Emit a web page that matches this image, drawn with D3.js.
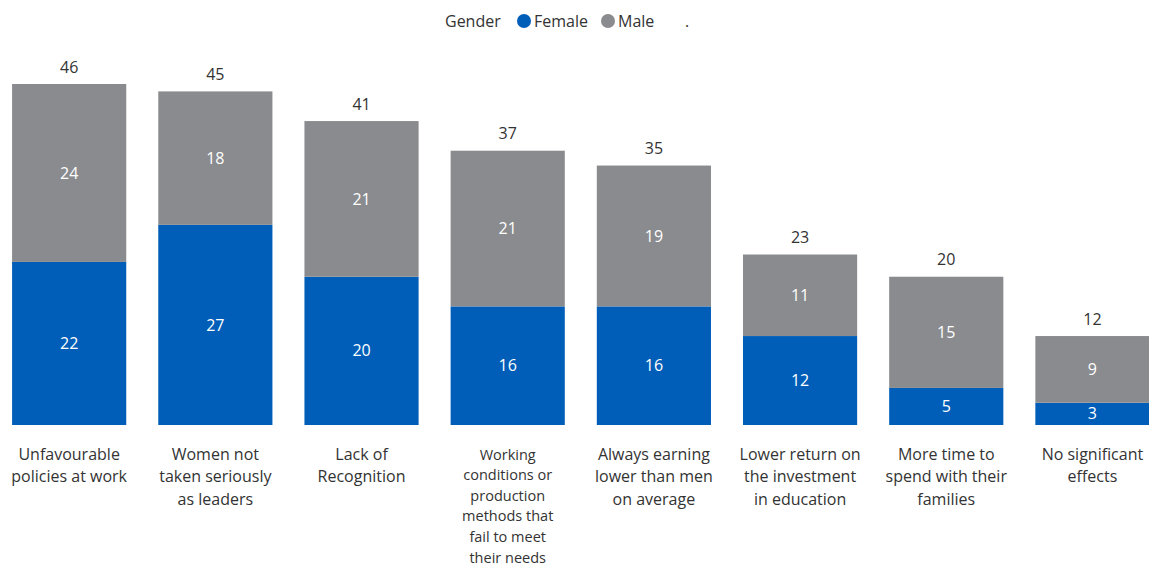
<!DOCTYPE html>
<html>
<head>
<meta charset="utf-8">
<script src="https://cdn.jsdelivr.net/npm/d3@7"></script>
<style>
  body { margin: 0; background: #fff; }
  svg text { font-family: "Open Sans", "Noto Sans", sans-serif; }
</style>
</head>
<body>
<div id="chart"></div>
<script>
var width = 1149;
var height = 565;

var categories = [
  ["Unfavourable", "policies at work"],
  ["Women not", "taken seriously", "as leaders"],
  ["Lack of", "Recognition"],
  ["Working", "conditions or", "production", "methods that", "fail to meet", "their needs"],
  ["Always earning", "lower than men", "on average"],
  ["Lower return on", "the investment", "in education"],
  ["More time to", "spend with their", "families"],
  ["No significant", "effects"]
];
var female = [22, 27, 20, 16, 16, 12, 5, 3];
var male = [24, 18, 21, 21, 19, 11, 15, 9];
var totals = [46, 45, 41, 37, 35, 23, 20, 12];

var blue = "#005EB8";
var gray = "#8A8B8E";

var svg = d3.select("#chart").append("svg")
  .attr("width", width)
  .attr("height", height);

var x = d3.scaleBand()
  .domain(d3.range(categories.length))
  .range([-4, 1165.6])
  .paddingInner(0.219)
  .paddingOuter(0.11);

var y = d3.scaleLinear()
  .domain([0, 46])
  .range([425, 84]);

var bars = svg.selectAll("g.bar")
  .data(categories)
  .enter().append("g")
  .attr("class", "bar");

// female (bottom)
bars.append("rect")
  .attr("x", (d, i) => x(i))
  .attr("width", x.bandwidth())
  .attr("y", (d, i) => y(female[i]))
  .attr("height", (d, i) => y(0) - y(female[i]))
  .attr("fill", blue);

// male (top)
bars.append("rect")
  .attr("x", (d, i) => x(i))
  .attr("width", x.bandwidth())
  .attr("y", (d, i) => y(female[i] + male[i]))
  .attr("height", (d, i) => y(female[i]) - y(female[i] + male[i]))
  .attr("fill", gray);

bars.append("text")
  .attr("x", (d, i) => x(i) + x.bandwidth() / 2)
  .attr("y", (d, i) => (y(0) + y(female[i])) / 2)
  .attr("dy", "0.35em")
  .attr("text-anchor", "middle")
  .attr("fill", "#fff")
  .style("font-size", "16px")
  .text((d, i) => female[i]);

bars.append("text")
  .attr("x", (d, i) => x(i) + x.bandwidth() / 2)
  .attr("y", (d, i) => (y(female[i]) + y(female[i] + male[i])) / 2)
  .attr("dy", "0.35em")
  .attr("text-anchor", "middle")
  .attr("fill", "#fff")
  .style("font-size", "16px")
  .text((d, i) => male[i]);

bars.append("text")
  .attr("x", (d, i) => x(i) + x.bandwidth() / 2)
  .attr("y", (d, i) => y(totals[i]) - 17)
  .attr("dy", "0.35em")
  .attr("text-anchor", "middle")
  .attr("fill", "#333")
  .style("font-size", "16px")
  .text((d, i) => totals[i]);

// category labels (the long one is set smaller so it fits)
bars.append("text")
  .attr("text-anchor", "middle")
  .attr("fill", "#333")
  .style("font-size", d => d.length > 3 ? "14.5px" : "16px")
  .each(function(d, i) {
    var t = d3.select(this);
    var lh = d.length > 3 ? 20.6 : 22.5;
    d.forEach(function(line, j) {
      t.append("tspan")
        .attr("x", x(i) + x.bandwidth() / 2)
        .attr("y", 459.5 + j * lh)
        .text(line);
    });
  });

// legend
var legend = svg.append("g").style("font-size", "16px").attr("fill", "#333");
legend.append("text").attr("x", 445).attr("y", 27).text("Gender");
legend.append("circle").attr("cx", 524).attr("cy", 21).attr("r", 7).attr("fill", blue);
legend.append("text").attr("x", 534).attr("y", 27).text("Female");
legend.append("circle").attr("cx", 608).attr("cy", 21).attr("r", 7).attr("fill", gray);
legend.append("text").attr("x", 618).attr("y", 27).text("Male");
legend.append("text").attr("x", 685).attr("y", 27).text(".");
</script>
</body>
</html>
